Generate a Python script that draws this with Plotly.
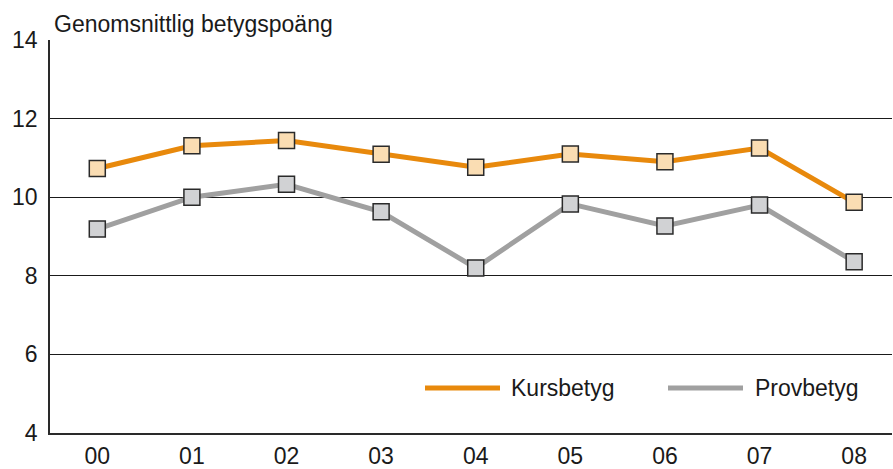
import plotly.graph_objects as go

years = ["00", "01", "02", "03", "04", "05", "06", "07", "08"]
kursbetyg = [10.73, 11.31, 11.44, 11.09, 10.76, 11.1, 10.9, 11.25, 9.87]
provbetyg = [9.19, 10.0, 10.33, 9.63, 8.2, 9.83, 9.27, 9.8, 8.36]
y_ticks = [4, 6, 8, 10, 12, 14]
y_title = "Genomsnittlig betygspoäng"
names = ["Kursbetyg", "Provbetyg"]

FONT = "Liberation Sans, Arial, sans-serif"
orange = "#E8890C"
orange_fill = "#FADDB3"
gray = "#A0A0A0"
gray_fill = "#D1D2D4"
edge = "#2a2a2a"

fig = go.Figure()
for vals, name, lc, fc in [(kursbetyg, names[0], orange, orange_fill),
                           (provbetyg, names[1], gray, gray_fill)]:
    fig.add_trace(go.Scatter(
        x=years, y=vals, name=name, mode="lines+markers",
        line=dict(color=lc, width=5),
        marker=dict(symbol="square", size=16, color=fc,
                    line=dict(color=edge, width=1.5)),
        showlegend=False,
    ))

fig.update_layout(
    width=893, height=469,
    margin=dict(l=50, r=1, t=40, b=36, autoexpand=False),
    paper_bgcolor="white", plot_bgcolor="white",
    font=dict(family=FONT, size=22, color="#1a1a1a"),
    xaxis=dict(type="category", range=[-0.5, 8.4], showgrid=False,
               showline=True, linecolor=edge, linewidth=1.5,
               ticks="", tickfont=dict(size=23), automargin=False,
               ticklabelstandoff=2, zeroline=False),
    yaxis=dict(range=[4, 14], tickvals=y_ticks, showgrid=True,
               gridcolor="#1a1a1a", gridwidth=1,
               showline=True, linecolor=edge, linewidth=1.5,
               ticks="", tickfont=dict(size=23), automargin=False,
               ticklabelstandoff=6, zeroline=False),
)

# title above axis
fig.add_annotation(text=y_title, xref="paper", yref="paper",
                   x=0.004, y=1.0, xanchor="left", yanchor="bottom",
                   yshift=2, showarrow=False, borderpad=0, font=dict(size=23))

# legend drawn as line samples + labels
legend_items = [(names[0], orange, 425, 500, 510), (names[1], gray, 668, 743, 754)]
for name, col, x0, x1, xt in legend_items:
    px0 = (x0 - 50) / 842
    px1 = (x1 - 50) / 842
    pxt = (xt - 50) / 842
    py = (433 - 388) / 393
    fig.add_shape(type="line", xref="paper", yref="paper",
                  x0=px0, x1=px1, y0=py, y1=py,
                  line=dict(color=col, width=5))
    fig.add_annotation(text=name, xref="paper", yref="paper",
                       x=pxt, y=py, xanchor="left", yanchor="middle",
                       showarrow=False, borderpad=0, font=dict(size=23))

fig.write_html("out.html", config={"displayModeBar": False},
               post_script="document.body.style.margin='0px';document.body.style.overflow='hidden';")
